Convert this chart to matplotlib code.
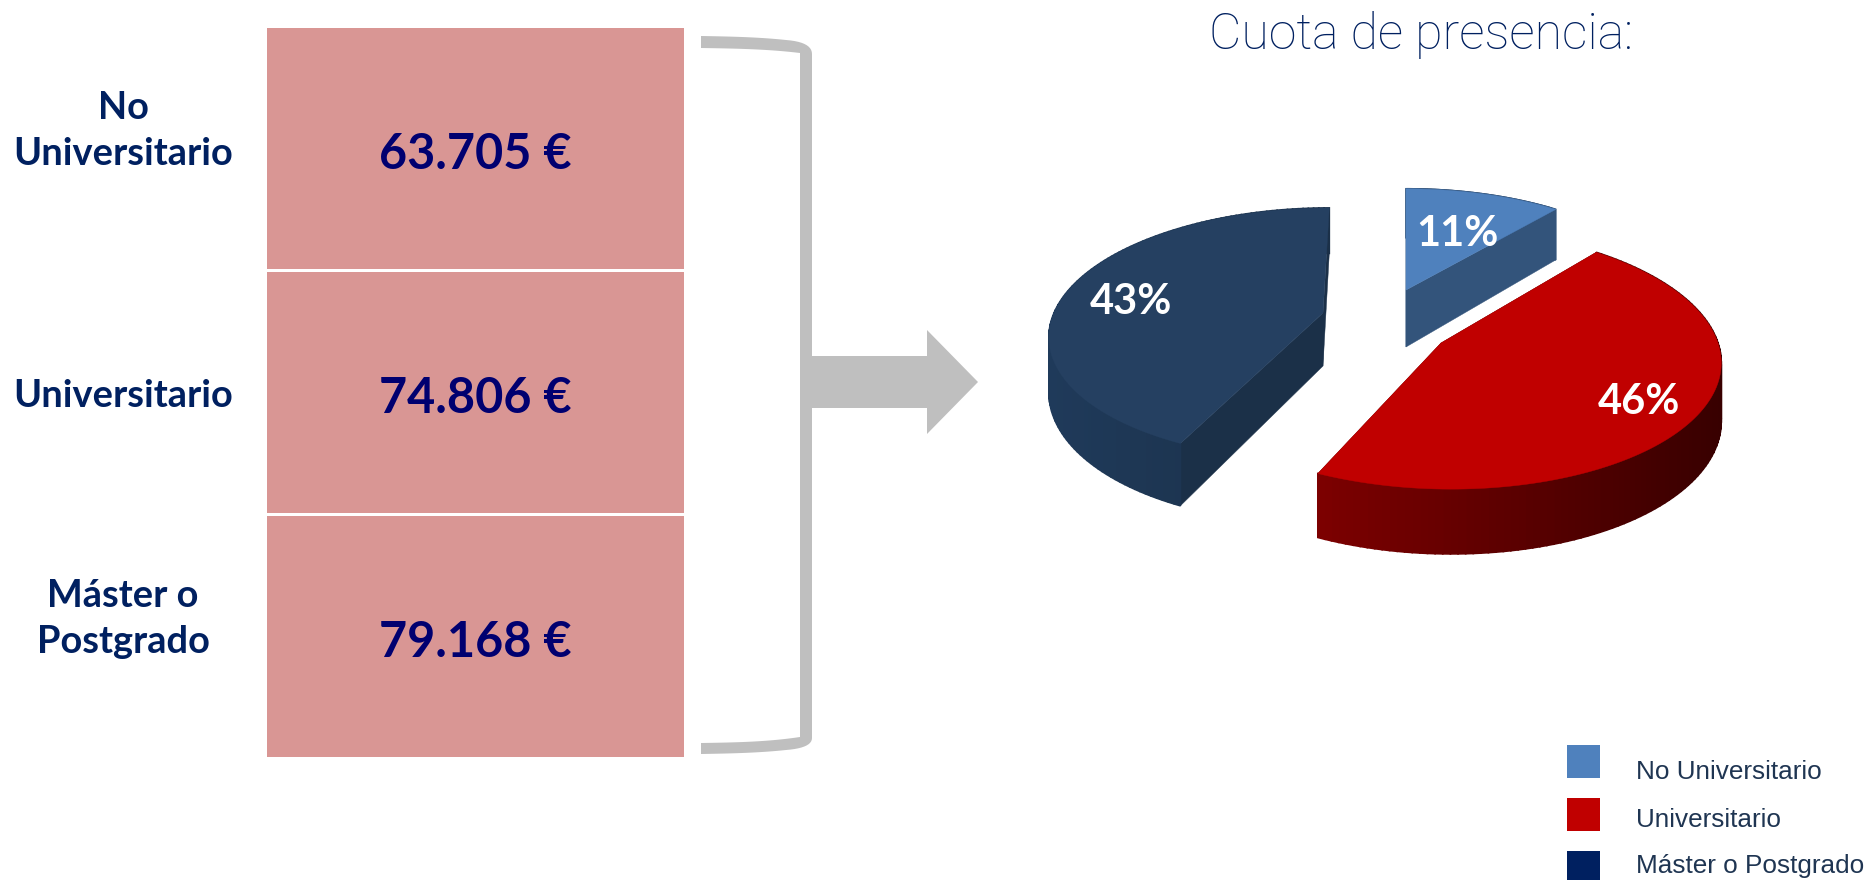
import numpy as np
import matplotlib
matplotlib.use('Agg')
import matplotlib.pyplot as plt
from matplotlib.patches import Polygon, Rectangle
from matplotlib.colors import LinearSegmentedColormap

levels = ['No\nUniversitario', 'Universitario', 'Máster o\nPostgrado']
salaries = ['63.705 €', '74.806 €', '79.168 €']
legend_names = ['No Universitario', 'Universitario', 'Máster o Postgrado']
legend_colors = ['#4f81bd', '#c00000', '#002060']
shares = [11, 46, 43]
share_labels = ['11%', '46%', '43%']

# everything below is in pixels of the 1872x880 image
fig = plt.figure(figsize=[18.72, 8.8], dpi=100)
ax = fig.add_axes([0, 0, 1, 1])
ax.set_xlim(0, 1872)
ax.set_ylim(880, 0)
ax.axis('off')

# left table
box_tops = [28, 272, 516]
label_y = [131, 396, 619]
for i in range(3):
    ax.add_patch(Rectangle((267, box_tops[i]), 417, 241, fc='#d99694', ec='none'))
    ax.text(475.5, box_tops[i] + 126.5, salaries[i], color='#000070', fontsize=35,
            fontweight='bold', ha='center', va='center', family='Lato')
    ax.text(123, label_y[i], levels[i], color='#002060', fontsize=27.4,
            fontweight='bold', ha='center', va='center', family='Lato', linespacing=1.42)


# bracket with arrow
def corner(p0, p1, p2):
    t = np.linspace(0, 1, 12)[:, None]
    return (1 - t) ** 2 * np.array(p0) + 2 * t * (1 - t) * np.array(p1) + t ** 2 * np.array(p2)


t = np.linspace(0, 1, 20)
top_outer = np.c_[701 + 85 * t, 36 + 1.5 * t + 2.5 * t ** 3]
top_inner = np.c_[701 + 99 * t, 48 + 1.5 * t + 3.5 * t ** 3]
bot_inner = np.c_[701 + 99 * t, 743 - 1.5 * t - 4.5 * t ** 3]
bot_outer = np.c_[701 + 85 * t, 754 - 1.5 * t - 2.5 * t ** 3]
bracket = np.vstack([
    top_outer, corner((786, 40), (812, 42), (812, 54)),
    [[812, 356], [927, 356], [927, 330], [978, 382],
     [927, 434], [927, 408], [812, 408]],
    corner((812, 738), (812, 748), (786, 750)),
    bot_outer[::-1], bot_inner, top_inner[::-1],
])
ax.add_patch(Polygon(bracket, closed=True, fc='#bfbfbf', ec='none'))

# exploded 3d pie, each slice has its own slight projection
centers = [(1406, 290), (1441, 343), (1323, 313)]
rxs = [265, 277, 269]
rys = [118, 128.6, 122.5]
ks = [0.166, 0.12, 0.166]
shears = [0.0, 0.07, -0.06]
depths = [57, 57, 53]
tops = ['#4f81bd', '#c00000', '#254061']
cut_colors = ['#33547b', '#500000', '#1b3048']
side_maps = [('#33547b', '#33547b'), ('#7d0000', '#380000'), ('#1f3a5a', '#1b3048')]
label_pos = [(1457, 234), (1639, 402), (1131, 302)]


def project(center, x, y, rx, ry, k, shear, depth):
    w = 1 + k * y
    sy = -ry * y / w
    return center[0] + rx * x / w + shear * sy, center[1] + sy, depth / w


start = 90.0
for i in range(3):
    stop = start - shares[i] * 3.6
    theta = np.radians(np.linspace(start, stop, 120))
    args = (rxs[i], rys[i], ks[i], shears[i], depths[i])
    px, py, d = project(centers[i], np.cos(theta), np.sin(theta), *args)
    ax0, ay0, d0 = project(centers[i], 0.0, 0.0, *args)

    # cut faces, then outer wall split in strips for the shading
    for j in (0, -1):
        ax.add_patch(Polygon([(ax0, ay0), (px[j], py[j]), (px[j], py[j] + d[j]), (ax0, ay0 + d0)],
                             fc=cut_colors[i], ec=cut_colors[i], lw=0.3))
    cmap = LinearSegmentedColormap.from_list('wall', list(side_maps[i]))
    for j in range(len(px) - 1):
        c = cmap((px[j] - px.min()) / (px.max() - px.min()))
        ax.add_patch(Polygon([(px[j], py[j]), (px[j + 1], py[j + 1]),
                              (px[j + 1], py[j + 1] + d[j + 1]), (px[j], py[j] + d[j])],
                             fc=c, ec=c, lw=1.2))
    ax.add_patch(Polygon(np.vstack([[(ax0, ay0)], np.c_[px, py]]), fc=tops[i], ec=tops[i], lw=0.3))
    start = stop

for label, pos in zip(share_labels, label_pos):
    ax.text(pos[0], pos[1], label, color='white', fontsize=30, fontweight='bold',
            ha='center', va='center', family='Lato')

ax.text(1421, 35, 'Cuota de presencia:', color='#002060', fontsize=36, fontweight='light',
        ha='center', va='center', family='Roboto')

# legend
legend_y = [745, 798, 851]
legend_text_y = [772, 820, 866]
for name, color, y, ty in zip(legend_names, legend_colors, legend_y, legend_text_y):
    ax.add_patch(Rectangle((1567, y), 33, 33, fc=color, ec='none'))
    ax.text(1636, ty, name, color='#1f3552', fontsize=18.85, va='center', family='Liberation Sans')

fig.savefig('out.png', dpi=100)
